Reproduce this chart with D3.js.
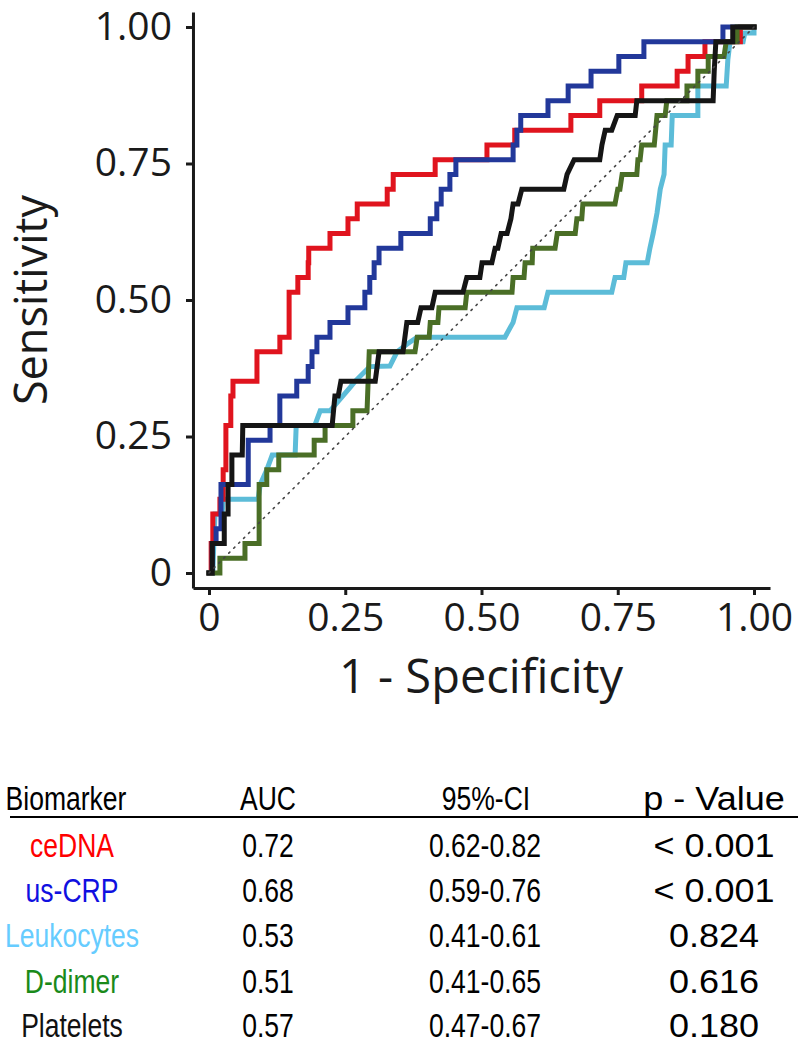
<!DOCTYPE html>
<html><head><meta charset="utf-8">
<script src="https://cdn.jsdelivr.net/npm/d3@7"></script>
<style>body{margin:0;background:#fff}svg{display:block}</style>
</head><body><svg id="c" width="800" height="1042"></svg>
<script>
// ---------- data ----------
const tickValues = [0, 0.25, 0.5, 0.75, 1];
const tickLabels = ["0", "0.25", "0.50", "0.75", "1.00"];

// ROC vertices [1 - specificity, sensitivity]
const ceDNA = [[0,0],[0.004,0],[0.004,0.054],[0.007,0.054],[0.007,0.108],[0.020,0.108],[0.020,0.135],[0.026,0.135],[0.026,0.189],[0.031,0.189],[0.031,0.270],[0.040,0.270],[0.040,0.324],[0.044,0.324],[0.044,0.351],[0.088,0.351],[0.088,0.405],[0.130,0.405],[0.130,0.432],[0.147,0.432],[0.147,0.514],[0.163,0.514],[0.163,0.541],[0.182,0.541],[0.182,0.568],[0.183,0.568],[0.183,0.595],[0.222,0.595],[0.222,0.622],[0.255,0.622],[0.255,0.649],[0.272,0.649],[0.272,0.676],[0.327,0.676],[0.327,0.703],[0.338,0.703],[0.338,0.730],[0.415,0.730],[0.415,0.757],[0.510,0.757],[0.510,0.784],[0.561,0.784],[0.561,0.811],[0.664,0.811],[0.664,0.838],[0.717,0.838],[0.717,0.865],[0.794,0.865],[0.794,0.892],[0.859,0.892],[0.859,0.919],[0.879,0.919],[0.879,0.946],[0.910,0.946],[0.910,0.973],[0.975,0.973],[0.975,1],[1,1]];

const usCRP = [[0,0],[0.006,0],[0.006,0.054],[0.013,0.054],[0.013,0.081],[0.022,0.081],[0.022,0.162],[0.072,0.162],[0.072,0.243],[0.112,0.243],[0.112,0.270],[0.130,0.270],[0.130,0.324],[0.161,0.324],[0.161,0.351],[0.182,0.351],[0.182,0.378],[0.189,0.378],[0.189,0.405],[0.198,0.405],[0.198,0.432],[0.222,0.432],[0.222,0.459],[0.255,0.459],[0.255,0.486],[0.286,0.486],[0.286,0.514],[0.295,0.514],[0.295,0.541],[0.303,0.541],[0.303,0.568],[0.312,0.568],[0.312,0.595],[0.352,0.595],[0.352,0.622],[0.406,0.622],[0.406,0.649],[0.418,0.649],[0.418,0.676],[0.426,0.676],[0.426,0.703],[0.442,0.703],[0.442,0.730],[0.453,0.730],[0.453,0.757],[0.558,0.757],[0.558,0.784],[0.565,0.784],[0.565,0.811],[0.572,0.811],[0.572,0.838],[0.622,0.838],[0.622,0.865],[0.659,0.865],[0.659,0.892],[0.701,0.892],[0.701,0.919],[0.752,0.919],[0.752,0.946],[0.798,0.946],[0.798,0.973],[0.943,0.973],[0.943,1],[1,1]];

const leukocytes = [[0,0],[0.007,0],[0.009,0.060],[0.011,0.108],[0.024,0.108],[0.026,0.135],[0.090,0.135],[0.094,0.162],[0.106,0.189],[0.116,0.216],[0.158,0.216],[0.160,0.270],[0.194,0.270],[0.204,0.297],[0.222,0.297],[0.228,0.304],[0.259,0.340],[0.268,0.351],[0.295,0.378],[0.332,0.379],[0.345,0.405],[0.363,0.419],[0.382,0.432],[0.543,0.432],[0.558,0.459],[0.565,0.486],[0.615,0.486],[0.622,0.514],[0.739,0.514],[0.745,0.541],[0.761,0.541],[0.765,0.568],[0.804,0.568],[0.809,0.595],[0.815,0.622],[0.822,0.659],[0.828,0.703],[0.835,0.730],[0.837,0.784],[0.848,0.784],[0.850,0.838],[0.897,0.838],[0.897,0.892],[0.949,0.892],[0.952,0.940],[0.956,0.973],[0.980,0.973],[0.983,0.989],[1,0.989],[1,1]];

const dDimer = [[0,0],[0.020,0],[0.020,0.027],[0.066,0.027],[0.066,0.054],[0.092,0.054],[0.092,0.162],[0.106,0.162],[0.106,0.189],[0.128,0.189],[0.128,0.216],[0.193,0.216],[0.193,0.243],[0.213,0.243],[0.213,0.270],[0.264,0.270],[0.264,0.297],[0.290,0.297],[0.294,0.405],[0.378,0.405],[0.382,0.432],[0.404,0.432],[0.406,0.459],[0.420,0.459],[0.422,0.486],[0.470,0.486],[0.473,0.514],[0.556,0.514],[0.558,0.541],[0.578,0.541],[0.580,0.568],[0.593,0.568],[0.594,0.595],[0.635,0.595],[0.639,0.622],[0.672,0.622],[0.675,0.649],[0.684,0.649],[0.686,0.676],[0.745,0.676],[0.750,0.703],[0.754,0.703],[0.758,0.730],[0.785,0.730],[0.787,0.757],[0.791,0.757],[0.794,0.784],[0.817,0.784],[0.822,0.838],[0.837,0.838],[0.840,0.865],[0.877,0.865],[0.877,0.892],[0.897,0.892],[0.897,0.919],[0.916,0.919],[0.916,0.946],[0.945,0.946],[0.949,0.973],[0.969,0.973],[0.969,1],[1,1]];

const platelets = [[0,0],[0.006,0],[0.006,0.054],[0.028,0.054],[0.028,0.108],[0.035,0.108],[0.035,0.162],[0.042,0.162],[0.042,0.216],[0.061,0.216],[0.062,0.270],[0.226,0.270],[0.231,0.324],[0.237,0.324],[0.242,0.351],[0.305,0.351],[0.312,0.405],[0.356,0.405],[0.363,0.459],[0.383,0.459],[0.389,0.486],[0.409,0.486],[0.415,0.514],[0.466,0.514],[0.473,0.541],[0.497,0.541],[0.501,0.568],[0.519,0.568],[0.525,0.595],[0.530,0.595],[0.536,0.622],[0.547,0.622],[0.554,0.649],[0.558,0.676],[0.567,0.676],[0.574,0.703],[0.651,0.703],[0.657,0.730],[0.670,0.757],[0.717,0.757],[0.721,0.784],[0.727,0.811],[0.739,0.811],[0.749,0.838],[0.782,0.838],[0.785,0.865],[0.925,0.865],[0.927,0.919],[0.930,0.973],[0.961,0.973],[0.961,1],[1,1]];

const diagonal = [[0,0],[1,1]];

// table
const biomarkers = ["ceDNA", "us-CRP", "Leukocytes", "D-dimer", "Platelets"];
const aucValues = ["0.72", "0.68", "0.53", "0.51", "0.57"];
const ciValues = ["0.62-0.82", "0.59-0.76", "0.41-0.61", "0.41-0.65", "0.47-0.67"];
const pValues = ["< 0.001", "< 0.001", "0.824", "0.616", "0.180"];
const tableHeaders = ["Biomarker", "AUC", "95%-CI", "p - Value"];

// ---------- styling ----------
const lineColors = { ceDNA: "#e0141e", usCRP: "#22389a", leukocytes: "#5cbcd8", dDimer: "#4a6e26", platelets: "#151515" };
const labelColors = ["#ff0000", "#1010e0", "#66ccff", "#1a8a1a", "#111111"];

const svg = d3.select("#c");
const x = d3.scaleLinear().domain([0, 1]).range([209, 754]);
const y = d3.scaleLinear().domain([0, 1]).range([573, 27]);
const xAxisScale = x.copy().domain([-0.0294, 1.0294]).range([x(-0.0294), x(1.0294)]);
const yAxisScale = y.copy().domain([-0.0275, 1.0275]).range([y(-0.0275), y(1.0275)]);

const tickFont = "'Open Sans', 'Noto Sans', sans-serif";

const gy = svg.append("g").attr("transform", `translate(${x(-0.0294)},0)`)
  .call(d3.axisLeft(yAxisScale).tickValues(tickValues)
    .tickFormat((d, i) => tickLabels[i]).tickSizeInner(7).tickSizeOuter(0).tickPadding(14));
const gx = svg.append("g").attr("transform", `translate(0,${y(-0.0275)})`)
  .call(d3.axisBottom(xAxisScale).tickValues(tickValues)
    .tickFormat((d, i) => tickLabels[i]).tickSizeInner(7).tickSizeOuter(0).tickPadding(8));
[gx, gy].forEach(g => {
  g.select(".domain").attr("stroke", "#1a1a1a").attr("stroke-width", 3);
  g.selectAll(".tick line").attr("stroke", "#1a1a1a").attr("stroke-width", 3);
  g.selectAll(".tick text").attr("fill", "#1a1a1a").style("font-family", tickFont).style("font-size", "39px");
});

// axis titles
svg.append("text").attr("x", 481).attr("y", 693).attr("text-anchor", "middle")
  .style("font-family", tickFont).style("font-size", "47px").attr("fill", "#1a1a1a").text("1 - Specificity");
svg.append("text").attr("transform", "translate(47,300) rotate(-90)").attr("text-anchor", "middle")
  .style("font-family", tickFont).style("font-size", "45px").attr("fill", "#1a1a1a").text("Sensitivity");

// curves
const line = d3.line().x(d => x(d[0])).y(d => y(d[1]));
const series = [
  { data: leukocytes, color: lineColors.leukocytes },
  { data: ceDNA, color: lineColors.ceDNA },
  { data: usCRP, color: lineColors.usCRP },
  { data: dDimer, color: lineColors.dDimer },
  { data: platelets, color: lineColors.platelets }
];
svg.append("g").selectAll("path").data(series).join("path")
  .attr("d", d => line(d.data)).attr("fill", "none")
  .attr("stroke", d => d.color).attr("stroke-width", 5)
  .attr("stroke-linejoin", "miter").attr("stroke-linecap", "square");

svg.append("path").attr("d", line(diagonal)).attr("fill", "none")
  .attr("stroke", "#444").attr("stroke-width", 1.6)
  .attr("stroke-dasharray", "1.5,5.5").attr("stroke-linecap", "round");

// table (condensed sans, like Arial Narrow)
const tableFont = "'Liberation Sans', Arial, sans-serif";
const squeeze = [0.78, 0.78, 0.78, 1.06];
const colX = [72, 268, 485, 714];
const headerX = [66, 268, 486, 714];
const headerY = 810;
const rowYs = [857, 902, 947, 993, 1037];
svg.append("g").selectAll("text").data(tableHeaders).join("text")
  .attr("transform", (d, i) => `translate(${headerX[i]},${headerY}) scale(${squeeze[i]},1)`)
  .attr("text-anchor", "middle")
  .style("font-family", tableFont).style("font-size", "34px").attr("fill", "#000").text(d => d);
svg.append("line").attr("x1", 10).attr("x2", 798).attr("y1", 817).attr("y2", 817)
  .attr("stroke", "#000").attr("stroke-width", 2);
const cols = [biomarkers, aucValues, ciValues, pValues];
cols.forEach((col, ci) => {
  svg.append("g").selectAll("text").data(col).join("text")
    .attr("transform", (d, i) => `translate(${colX[ci]},${rowYs[i]}) scale(${squeeze[ci]},1)`)
    .attr("text-anchor", "middle")
    .style("font-family", tableFont).style("font-size", "34px")
    .attr("fill", (d, i) => ci === 0 ? labelColors[i] : "#000").text(d => d);
});
</script></body></html>
